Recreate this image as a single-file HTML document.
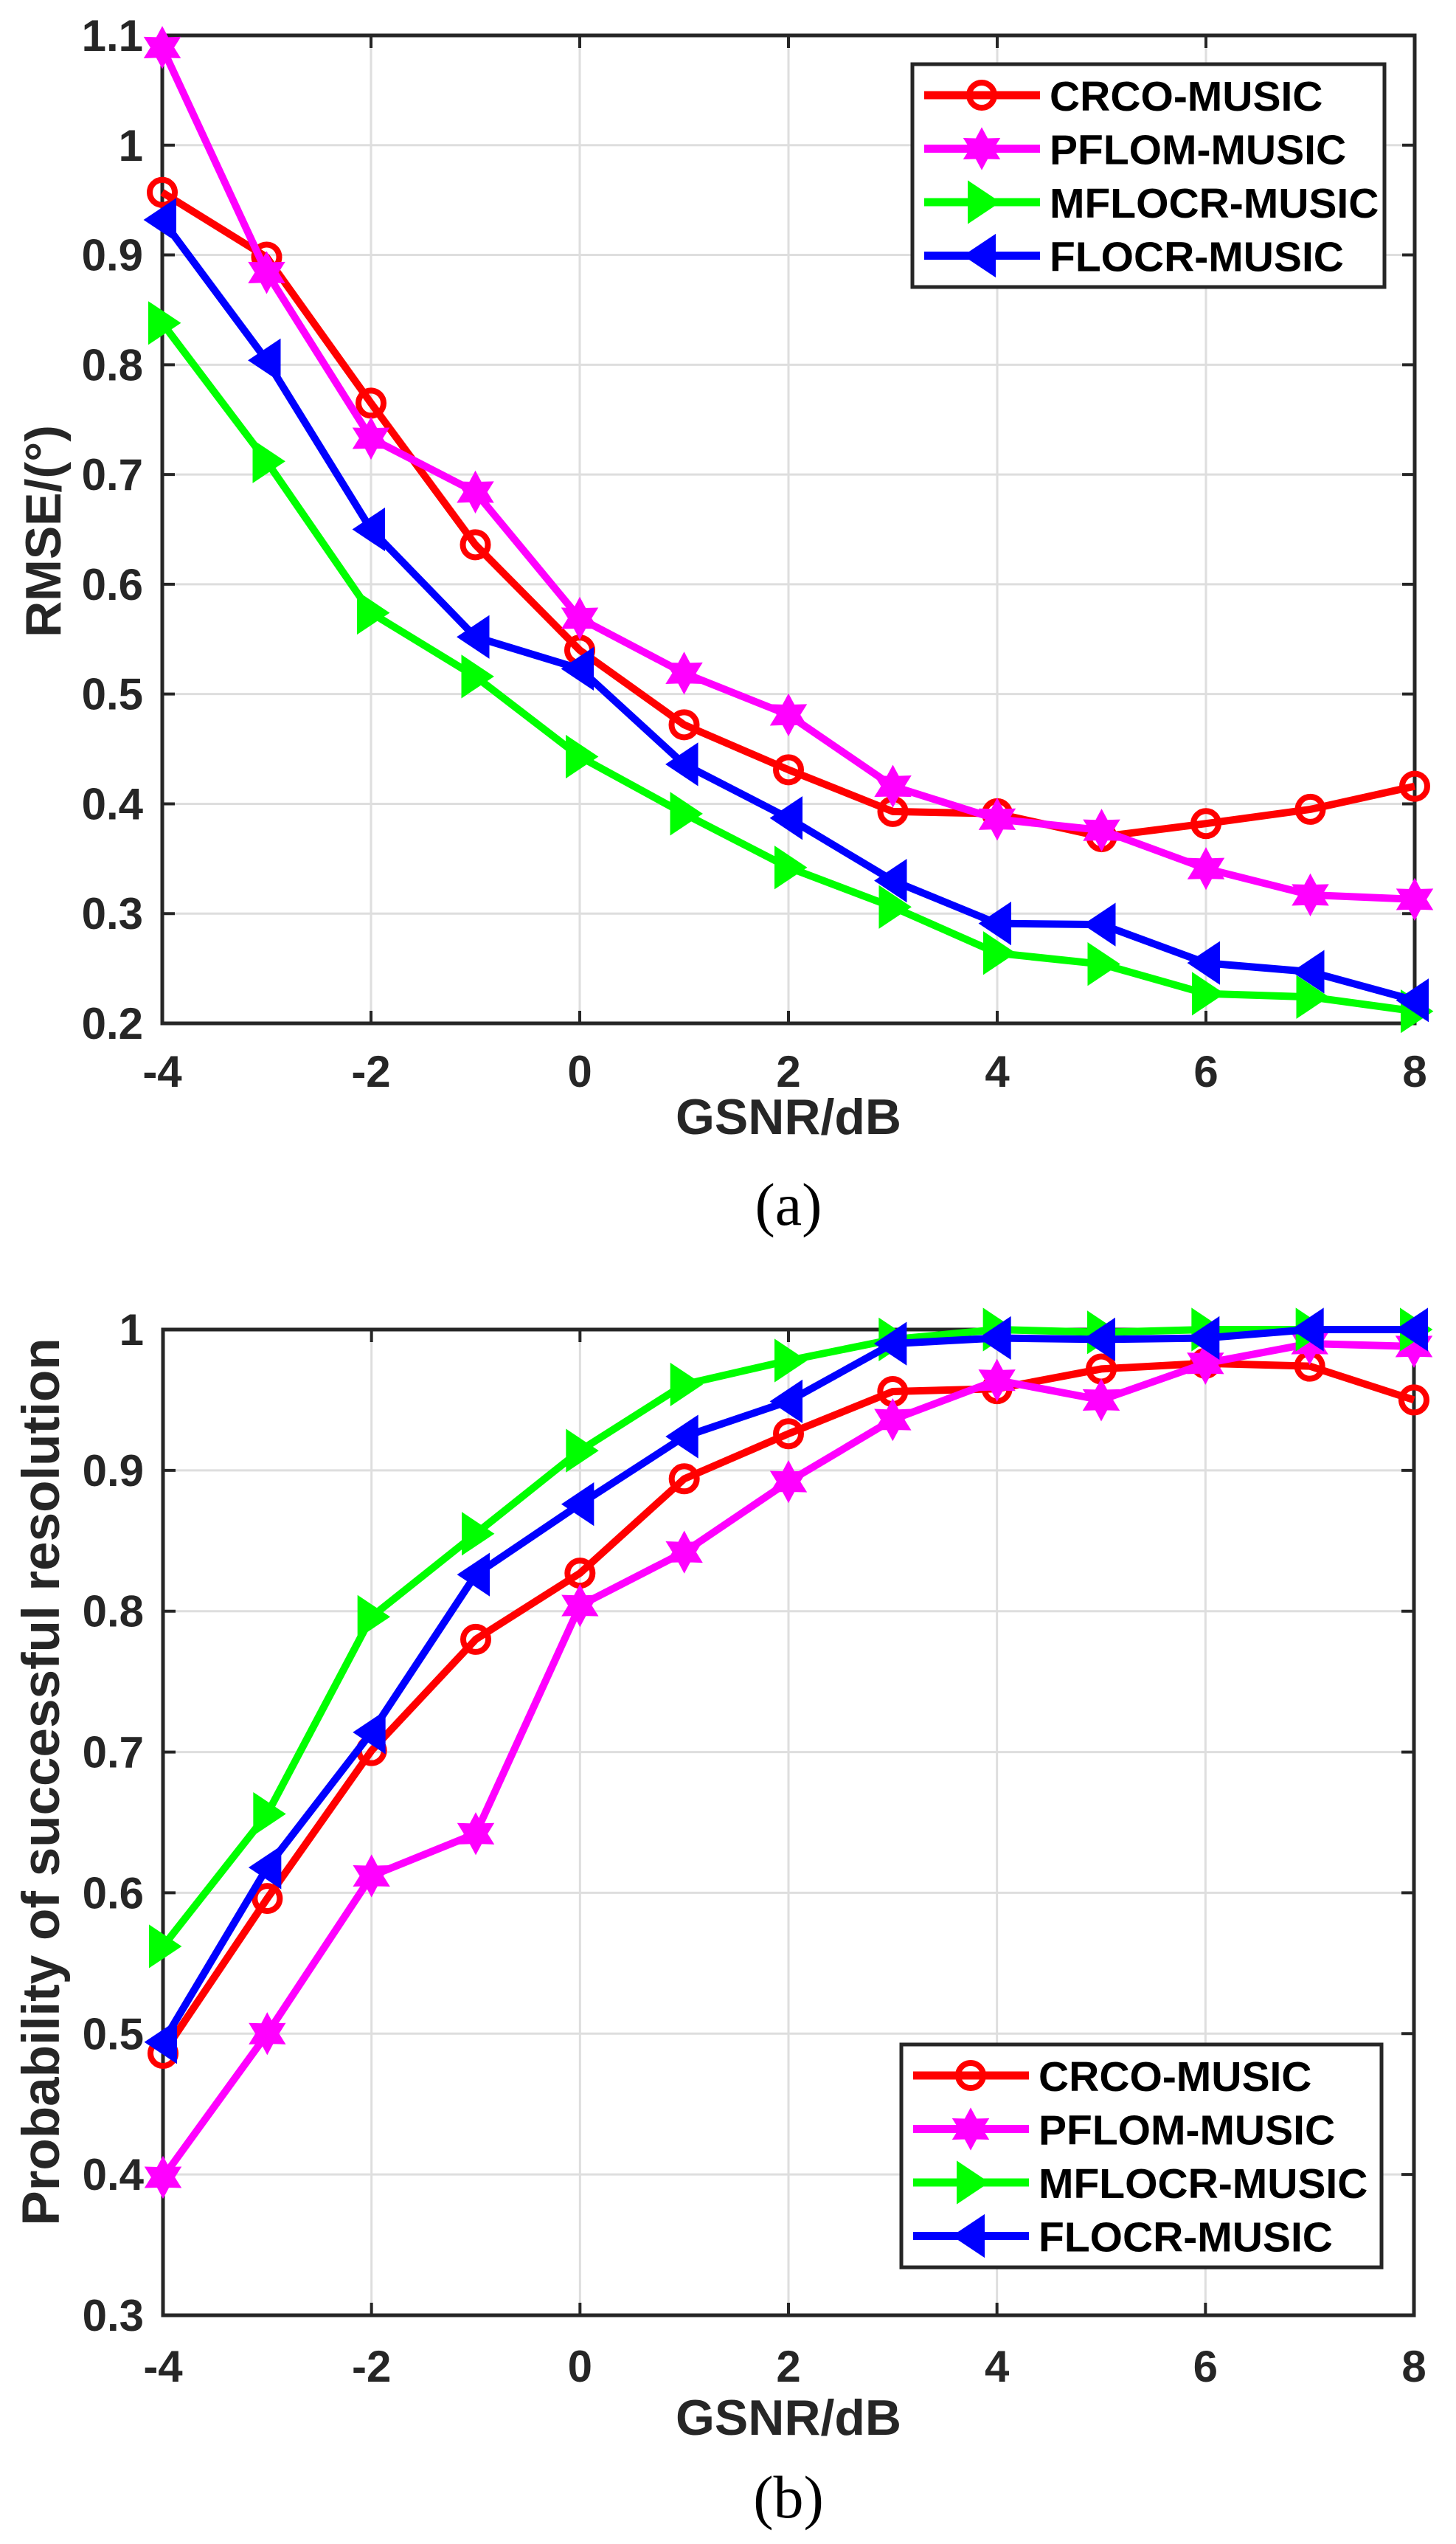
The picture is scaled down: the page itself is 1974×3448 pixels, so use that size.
<!DOCTYPE html>
<html><head><meta charset="utf-8"><style>
html,body{margin:0;padding:0;background:#fff;}
svg{display:block;}
</style></head><body>
<svg id="fig" width="1974" height="3448" viewBox="0 0 1974 3448" xmlns="http://www.w3.org/2000/svg" font-family="Liberation Sans, Arial, sans-serif"></svg>
<script>
const xTicks = [-4,-2,0,2,4,6,8];
const xVals = [-4,-3,-2,-1,0,1,2,3,4,5,6,7,8];
const seriesNames = ['CRCO-MUSIC','PFLOM-MUSIC','MFLOCR-MUSIC','FLOCR-MUSIC'];
const yTicksA = [0.2,0.3,0.4,0.5,0.6,0.7,0.8,0.9,1,1.1];
const yTickLabelsA = ['0.2','0.3','0.4','0.5','0.6','0.7','0.8','0.9','1','1.1'];
const crcoA = [0.957,0.898,0.765,0.636,0.540,0.472,0.431,0.393,0.391,0.370,0.382,0.395,0.416];
const pflomA = [1.089,0.884,0.733,0.684,0.569,0.519,0.481,0.416,0.386,0.376,0.341,0.317,0.313];
const mflocrA = [0.838,0.712,0.574,0.516,0.443,0.391,0.342,0.306,0.264,0.254,0.227,0.224,0.211];
const flocrA = [0.932,0.804,0.650,0.552,0.523,0.436,0.387,0.330,0.291,0.290,0.255,0.247,0.221];
const yTicksB = [0.3,0.4,0.5,0.6,0.7,0.8,0.9,1];
const yTickLabelsB = ['0.3','0.4','0.5','0.6','0.7','0.8','0.9','1'];
const crcoB = [0.486,0.596,0.701,0.780,0.827,0.894,0.926,0.956,0.958,0.972,0.976,0.974,0.950];
const pflomB = [0.398,0.500,0.612,0.642,0.804,0.842,0.892,0.936,0.964,0.950,0.976,0.990,0.988];
const mflocrB = [0.562,0.656,0.796,0.855,0.914,0.961,0.978,0.993,1.0,0.998,1.0,1.0,1.0];
const flocrB = [0.494,0.618,0.714,0.826,0.876,0.924,0.949,0.990,0.994,0.993,0.994,1.0,1.0];

const NS='http://www.w3.org/2000/svg';
const svg=document.getElementById('fig');
function mk(tag,attrs,parent){const e=document.createElementNS(NS,tag);for(const k in attrs)e.setAttribute(k,attrs[k]);(parent||svg).appendChild(e);return e;}
const colors=['#ff0000','#ff00ff','#00ff00','#0000ff'];
const markers=['circle','star','tright','tleft'];

function marker(g,type,cx,cy,color){
  let e;
  if(type==='circle'){e=mk('circle',{cx:cx,cy:cy,r:17,fill:'none',stroke:color,'stroke-width':8},g);}
  else if(type==='star'){
    let pts=[];for(let i=0;i<12;i++){const r=i%2?15:27;const a=-Math.PI/2+i*Math.PI/6;pts.push((cx+r*Math.cos(a)).toFixed(1)+','+(cy+r*Math.sin(a)).toFixed(1));}
    e=mk('polygon',{points:pts.join(' '),fill:color,stroke:color,'stroke-width':2},g);}
  else if(type==='tright'){e=mk('polygon',{points:`${cx-16},${cy-24} ${cx+20},${cy} ${cx-16},${cy+24}`,fill:color,stroke:color,'stroke-width':6,'stroke-linejoin':'miter'},g);}
  else {e=mk('polygon',{points:`${cx+16},${cy-24} ${cx-20},${cy} ${cx+16},${cy+24}`,fill:color,stroke:color,'stroke-width':6,'stroke-linejoin':'miter'},g);}
  
  
}

function chart(cfg){
  const {L,R,T,B,ymin,ymax,yTicks,yLabels,series,prefix}=cfg;
  const xs=v=>L+(v-(-4))/(12)*(R-L);
  const ys=v=>B-(v-ymin)/(ymax-ymin)*(B-T);
  const g=mk('g',{});
  
  
  xTicks.forEach(t=>{const l=mk('line',{x1:xs(t),x2:xs(t),y1:T,y2:B,stroke:'#dedede','stroke-width':3},g);
    });
  yTicks.forEach(t=>{const l=mk('line',{x1:L,x2:R,y1:ys(t),y2:ys(t),stroke:'#dedede','stroke-width':3},g);
    });
  xTicks.forEach(t=>{
    mk('line',{x1:xs(t),x2:xs(t),y1:B,y2:B-17,stroke:'#262626','stroke-width':4},g);
    mk('line',{x1:xs(t),x2:xs(t),y1:T,y2:T+17,stroke:'#262626','stroke-width':4},g);
    const tx=mk('text',{x:xs(t),y:cfg.xLabelY,'font-size':60,'font-weight':'bold',fill:'#262626','text-anchor':'middle'},g);
    tx.textContent=String(t);
    
  });
  yTicks.forEach((t,i)=>{
    mk('line',{x1:L,x2:L+17,y1:ys(t),y2:ys(t),stroke:'#262626','stroke-width':4},g);
    mk('line',{x1:R,x2:R-17,y1:ys(t),y2:ys(t),stroke:'#262626','stroke-width':4},g);
    const tx=mk('text',{x:L-26,y:ys(t)+21,'font-size':60,'font-weight':'bold',fill:'#262626','text-anchor':'end'},g);
    tx.textContent=yLabels[i];
    
  });
  const box=mk('rect',{x:L,y:T,width:R-L,height:B-T,fill:'none',stroke:'#262626','stroke-width':5},g);
  
  series.forEach((s,si)=>{
    const sg=mk('g',{},g);
    
    
    const pts=s.map((v,i)=>xs(xVals[i]).toFixed(1)+','+ys(v).toFixed(1)).join(' ');
    const pl=mk('polyline',{points:pts,fill:'none',stroke:colors[si],'stroke-width':10,'stroke-linejoin':'round'},sg);
    
    s.forEach((v,i)=>marker(sg,markers[si],xs(xVals[i]),ys(v),colors[si]));
  });
  const lg=mk('g',{},g);
  
  const lr=mk('rect',{x:cfg.legX,y:cfg.legY,width:cfg.legW,height:cfg.legH,fill:'#fff',stroke:'#262626','stroke-width':5},lg);
  
  seriesNames.forEach((n,i)=>{
    const yy=cfg.legY+42+i*72.5;
    const e=mk('g',{},lg);
    
    mk('line',{x1:cfg.legX+16,x2:cfg.legX+173,y1:yy,y2:yy,stroke:colors[i],'stroke-width':11},e);
    marker(e,markers[i],cfg.legX+94,yy,colors[i]);
    const t=mk('text',{x:cfg.legX+186,y:yy+21,'font-size':57,'font-weight':'bold',fill:'#000'},e);
    t.textContent=n;
  });
  const xt=mk('text',{x:(L+R)/2,y:cfg.xTitleY,'font-size':68,'font-weight':'bold',fill:'#262626','text-anchor':'middle'},g);
  xt.textContent='GSNR/dB';
  const yt=mk('text',{x:0,y:0,'font-size':cfg.yTitleSize,'font-weight':'bold',fill:'#262626','text-anchor':'middle',transform:`translate(${cfg.yTitleX},${cfg.yTitleY}) rotate(-90)`},g);
  yt.textContent=cfg.yTitle;
  const cap=mk('text',{x:(L+R)/2,y:cfg.capY,'font-size':82,fill:'#000','text-anchor':'middle','font-family':'Liberation Serif, serif'},g);
  cap.textContent=cfg.cap;
}

chart({L:220,R:1918,T:48,B:1387,ymin:0.2,ymax:1.1,yTicks:yTicksA,yLabels:yTickLabelsA,
  series:[crcoA,pflomA,mflocrA,flocrA],prefix:'rmse',xLabelY:1473,xTitleY:1537,
  yTitleX:82,yTitleY:720,yTitle:'RMSE/(°)',yTitleSize:68,capY:1660,cap:'(a)',
  legX:1237,legY:87,legW:640,legH:302});
chart({L:221,R:1917,T:1802,B:3138,ymin:0.3,ymax:1.0,yTicks:yTicksB,yLabels:yTickLabelsB,
  series:[crcoB,pflomB,mflocrB,flocrB],prefix:'probability',xLabelY:3228,xTitleY:3300,
  yTitleX:80,yTitleY:2415,yTitle:'Probability of successful resolution',yTitleSize:71,capY:3412,cap:'(b)',
  legX:1222,legY:2771,legW:651,legH:302});
</script>
</body></html>
